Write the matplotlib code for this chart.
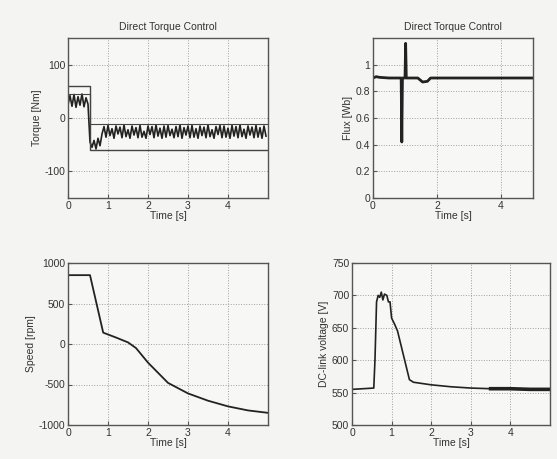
import numpy as np
import matplotlib
matplotlib.use("Agg")
import matplotlib.pyplot as plt

plt.rcParams['font.family'] = ['Liberation Sans', 'DejaVu Sans']
plt.rcParams['font.size'] = 7.5
plt.rcParams['axes.unicode_minus'] = False

# --- couple électromagnétique (échantillons tous les 0.05 s)
torque_t = np.arange(100) * 0.05
torque_v = [25, 42, 22, 44, 20, 40, 24, 45, 21, 38, 26,
            -45,
            -55, -42, -58, -38, -52, -30,
            -16, -36, -14, -33, -20, -38, -15, -30, -17, -37,
            -13, -35, -22, -38, -15, -32, -18, -37, -14, -36,
            -25, -38, -15, -31, -16, -37, -13, -34, -19, -38,
            -15, -36, -14, -33, -21, -37, -16, -35, -13, -38,
            -18, -32, -15, -37, -14, -36, -20, -38, -15, -33,
            -17, -37, -13, -35, -22, -38, -16, -31, -14, -37,
            -15, -36, -19, -38, -14, -34, -16, -37, -13, -35,
            -21, -38, -15, -32, -17, -37, -14, -36, -18, -38,
            -15, -34]
# consigne / bande d'hystérésis
ref_t = [0, 0.55, 0.55, 5]
ref_v = [60, 60, -60, -60]
band_t = [0, 0.55, 0.55, 0.6, 0.6, 5]
band_v = [45, 45, -12, -12, -12, -12]

# --- flux statorique
flux_t = [0, 0.1, 0.2, 0.5, 0.88, 0.9, 0.92, 1.0, 1.02, 1.04, 1.4, 1.55, 1.7, 1.8, 5]
flux_v = [0.9, 0.91, 0.905, 0.9, 0.9, 0.42, 0.9, 0.9, 1.16, 0.9, 0.9, 0.87, 0.875, 0.9, 0.9]

# --- vitesse
speed_t = [0, 0.55, 0.88, 1.2, 1.5, 1.7, 2.0, 2.5, 3.0, 3.5, 4.0, 4.5, 5.0]
speed_v = [850, 850, 140, 80, 20, -50, -230, -480, -610, -700, -770, -820, -850]

# --- tension du bus continu
vdc_t = [0, 0.55, 0.58, 0.62, 0.66, 0.7, 0.74, 0.78, 0.82, 0.88, 0.92, 0.96, 1.0,
         1.08, 1.15, 1.25, 1.35, 1.45, 1.55, 2.0, 2.5, 3.0, 3.5, 4.0, 4.5, 5.0]
vdc_v = [555, 557, 600, 690, 700, 697, 705, 693, 702, 700, 690, 690, 665,
         655, 645, 620, 595, 570, 566, 562, 559, 557, 556, 556, 555, 555]

W, H = 557, 459
bg = '#f4f4f2'
fig = plt.figure(figsize=(W / 100, H / 100), dpi=100, facecolor=bg)


def make_ax(l, r, t, b):
    ax = fig.add_axes([l / W, (H - b) / H, (r - l) / W, (b - t) / H])
    ax.set_facecolor('#f7f7f5')
    for s in ax.spines.values():
        s.set_color('#555555')
        s.set_linewidth(1.0)
    ax.tick_params(direction='in', length=3, color='#555555', labelcolor='#333333', pad=2)
    ax.grid(True, linestyle=':', color='#a0a0a0', linewidth=0.7)
    return ax


line_c = '#222222'

# couple
ax1 = make_ax(68, 268, 38, 198)
ax1.plot(torque_t, torque_v, color=line_c, lw=1.2)
ax1.plot(ref_t, ref_v, color='#444444', lw=1.0)
ax1.plot(band_t, band_v, color='#444444', lw=0.8)
ax1.set_xlim(0, 5)
ax1.set_ylim(-150, 150)
ax1.set_xticks([0, 1, 2, 3, 4])
ax1.set_yticks([-100, 0, 100])
ax1.set_title('Direct Torque Control', color='#333333', fontsize=7.5, pad=6)
ax1.set_xlabel('Time [s]', color='#333333', labelpad=0)
ax1.set_ylabel('Torque [Nm]', color='#333333', labelpad=2)

# flux
ax2 = make_ax(373, 533, 38, 198)
ax2.plot(flux_t, flux_v, color=line_c, lw=2.0)
ax2.set_xlim(0, 5)
ax2.set_ylim(0, 1.2)
ax2.set_xticks([0, 2, 4])
ax2.set_yticks([0, 0.2, 0.4, 0.6, 0.8, 1])
ax2.set_yticklabels(['0', '0.2', '0.4', '0.6', '0.8', '1'])
ax2.set_title('Direct Torque Control', color='#333333', fontsize=7.5, pad=6)
ax2.set_xlabel('Time [s]', color='#333333', labelpad=0)
ax2.set_ylabel('Flux [Wb]', color='#333333', labelpad=2)

# vitesse
ax3 = make_ax(68, 268, 263, 425)
ax3.plot(speed_t, speed_v, color=line_c, lw=1.3)
ax3.set_xlim(0, 5)
ax3.set_ylim(-1000, 1000)
ax3.set_xticks([0, 1, 2, 3, 4])
ax3.set_yticks([-1000, -500, 0, 500, 1000])
ax3.set_xlabel('Time [s]', color='#333333', labelpad=0)
ax3.set_ylabel('Speed [rpm]', color='#333333', labelpad=2)

# tension bus continu
ax4 = make_ax(352, 550, 263, 425)
ax4.plot(vdc_t, vdc_v, color=line_c, lw=1.2)
tail = slice(vdc_t.index(3.5), None)
ax4.plot(vdc_t[tail], vdc_v[tail], color=line_c, lw=2.6)
ax4.set_xlim(0, 5)
ax4.set_ylim(500, 750)
ax4.set_xticks([0, 1, 2, 3, 4])
ax4.set_yticks([500, 550, 600, 650, 700, 750])
ax4.set_xlabel('Time [s]', color='#333333', labelpad=0)
ax4.set_ylabel('DC-link voltage [V]', color='#333333', labelpad=2)

fig.savefig('out.png', dpi=100, facecolor=bg)
